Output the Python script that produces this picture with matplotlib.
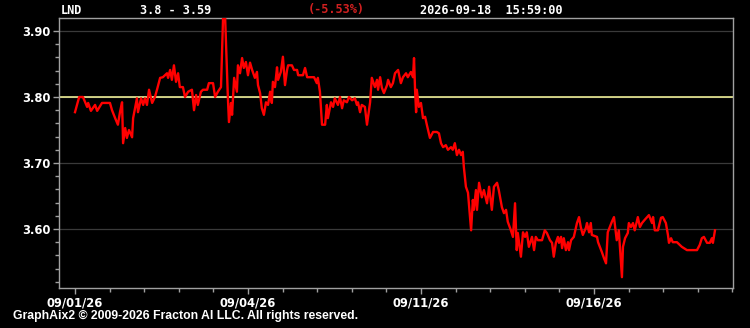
import numpy as np
import matplotlib
matplotlib.use("Agg")
import matplotlib.pyplot as plt
from matplotlib.ticker import MultipleLocator, FixedLocator, FixedFormatter

# price path, t = session position (1 unit per minor x tick)
t = [0, 0.12, 0.23, 0.35, 0.38, 0.46, 0.58, 0.64, 0.78, 1.01,
     1.07, 1.16, 1.24, 1.30, 1.36, 1.39, 1.45, 1.50, 1.56, 1.65,
     1.68, 1.79, 1.82, 1.91, 1.97, 2.02, 2.08, 2.14, 2.23, 2.31,
     2.37, 2.46, 2.54, 2.66, 2.69, 2.75, 2.80, 2.86, 2.92, 2.98,
     3.03, 3.12, 3.18, 3.27, 3.38, 3.44, 3.50, 3.55, 3.64, 3.70,
     3.82, 3.87, 3.99, 4.05, 4.13, 4.22, 4.28, 4.34, 4.42, 4.45,
     4.51, 4.54, 4.60, 4.68, 4.71, 4.77, 4.83, 4.88, 4.94, 5.00,
     5.06, 5.12, 5.20, 5.26, 5.29, 5.35, 5.40, 5.46, 5.52, 5.58,
     5.64, 5.69, 5.72, 5.78, 5.84, 5.87, 5.95, 6.01, 6.07, 6.13,
     6.16, 6.27, 6.33, 6.42, 6.45, 6.59, 6.65, 6.71, 6.91, 6.99,
     7.02, 7.08, 7.14, 7.23, 7.28, 7.31, 7.40, 7.46, 7.51, 7.60,
     7.66, 7.72, 7.77, 7.86, 7.92, 8.01, 8.09, 8.15, 8.18, 8.24,
     8.29, 8.38, 8.44, 8.53, 8.58, 8.67, 8.73, 8.76, 8.82, 8.87,
     8.93, 9.02, 9.05, 9.13, 9.19, 9.25, 9.34, 9.42, 9.48, 9.57,
     9.62, 9.71, 9.77, 9.80, 9.83, 9.86, 9.88, 9.94, 10.00, 10.06,
     10.12, 10.17, 10.26, 10.35, 10.46, 10.52, 10.58, 10.64, 10.72, 10.78,
     10.87, 10.92, 10.98, 11.04, 11.10, 11.16, 11.21, 11.24, 11.30, 11.36,
     11.45, 11.50, 11.53, 11.59, 11.62, 11.68, 11.76, 11.82, 11.91, 11.97,
     12.05, 12.11, 12.20, 12.25, 12.34, 12.40, 12.46, 12.51, 12.60, 12.66,
     12.72, 12.77, 12.80, 12.89, 12.95, 13.01, 13.06, 13.12, 13.21, 13.27,
     13.32, 13.38, 13.50, 13.58, 13.64, 13.73, 13.79, 13.84, 13.90, 13.96,
     13.99, 14.05, 14.08, 14.13, 14.19, 14.25, 14.28, 14.34, 14.42, 14.51,
     14.57, 14.62, 14.68, 14.77, 14.80, 14.86, 14.91, 14.94, 15.09, 15.12,
     15.23, 15.29, 15.35, 15.40, 15.52, 15.58, 15.66, 15.72, 15.81, 15.84,
     15.90, 15.98, 16.01, 16.07, 16.13, 16.18, 16.27, 16.33, 16.39, 16.47,
     16.59, 16.68, 16.71, 16.76, 16.85, 16.94, 16.99, 17.08, 17.14, 17.17,
     17.23, 17.28, 17.40, 17.54, 17.69, 17.98, 18.06, 18.12, 18.18, 18.27,
     18.35, 18.41, 18.44, 18.50]

price = [3.777, 3.800, 3.800, 3.785, 3.791, 3.779, 3.788, 3.779, 3.791, 3.791,
         3.780, 3.768, 3.758, 3.777, 3.792, 3.730, 3.753, 3.738, 3.750, 3.739,
         3.768, 3.798, 3.777, 3.798, 3.788, 3.798, 3.788, 3.811, 3.791, 3.800,
         3.811, 3.829, 3.830, 3.836, 3.829, 3.841, 3.826, 3.848, 3.823, 3.836,
         3.815, 3.815, 3.800, 3.808, 3.811, 3.780, 3.803, 3.788, 3.808, 3.811,
         3.811, 3.821, 3.821, 3.800, 3.808, 3.815, 3.920, 3.920, 3.798, 3.762,
         3.791, 3.773, 3.829, 3.808, 3.848, 3.836, 3.859, 3.844, 3.853, 3.833,
         3.852, 3.841, 3.829, 3.838, 3.818, 3.806, 3.783, 3.773, 3.792, 3.788,
         3.808, 3.791, 3.823, 3.815, 3.845, 3.826, 3.838, 3.861, 3.818, 3.841,
         3.848, 3.848, 3.841, 3.841, 3.833, 3.833, 3.844, 3.830, 3.830, 3.821,
         3.829, 3.808, 3.758, 3.758, 3.788, 3.768, 3.792, 3.785, 3.798, 3.788,
         3.800, 3.783, 3.795, 3.792, 3.800, 3.795, 3.798, 3.788, 3.792, 3.777,
         3.788, 3.785, 3.758, 3.792, 3.829, 3.815, 3.826, 3.811, 3.830, 3.814,
         3.806, 3.818, 3.826, 3.815, 3.821, 3.836, 3.841, 3.821, 3.830, 3.836,
         3.830, 3.838, 3.830, 3.859, 3.811, 3.777, 3.811, 3.785, 3.791, 3.768,
         3.770, 3.758, 3.738, 3.747, 3.747, 3.745, 3.730, 3.724, 3.727, 3.720,
         3.724, 3.720, 3.730, 3.712, 3.720, 3.712, 3.717, 3.694, 3.664, 3.655,
         3.598, 3.644, 3.629, 3.659, 3.629, 3.670, 3.648, 3.659, 3.639, 3.664,
         3.629, 3.664, 3.670, 3.659, 3.633, 3.624, 3.629, 3.611, 3.598, 3.588,
         3.639, 3.568, 3.594, 3.558, 3.595, 3.588, 3.595, 3.573, 3.588, 3.568,
         3.588, 3.583, 3.583, 3.598, 3.594, 3.583, 3.579, 3.558, 3.579, 3.588,
         3.579, 3.588, 3.571, 3.586, 3.568, 3.580, 3.568, 3.583, 3.588, 3.609,
         3.618, 3.603, 3.591, 3.602, 3.609, 3.595, 3.609, 3.591, 3.588, 3.580,
         3.565, 3.556, 3.548, 3.595, 3.611, 3.618, 3.583, 3.598, 3.527, 3.573,
         3.586, 3.594, 3.609, 3.603, 3.609, 3.598, 3.618, 3.603, 3.609, 3.614,
         3.621, 3.609, 3.618, 3.598, 3.598, 3.617, 3.618, 3.609, 3.591, 3.579,
         3.586, 3.580, 3.580, 3.573, 3.568, 3.568, 3.576, 3.586, 3.588, 3.579,
         3.579, 3.586, 3.579, 3.598]

ref_price = 3.80
date_pos = [0, 5, 10, 15]
date_labels = ["09/01/26", "09/04/26", "09/11/26", "09/16/26"]
y_ticks = [3.60, 3.70, 3.80, 3.90]

fig = plt.figure(figsize=(7.5, 3.28), dpi=100, facecolor="black")
ax = fig.add_axes([0.0787, 0.1220, 0.8986, 0.8231], facecolor="black")

for yv in y_ticks:
    ax.axhline(yv, color="#3a3a3a", lw=0.9, zorder=1)
ax.axhline(ref_price, color="#ffffa0", lw=1.1, zorder=2)
ax.plot(t, price, color="#ff0000", lw=1.7, zorder=3, clip_on=True)

ax.set_xlim(-0.462, 19.02)
ax.set_ylim(3.5106, 3.9197)

ax.xaxis.set_major_locator(FixedLocator(date_pos))
ax.xaxis.set_major_formatter(FixedFormatter(date_labels))
ax.xaxis.set_minor_locator(MultipleLocator(1))
ax.yaxis.set_major_locator(FixedLocator(y_ticks))
ax.yaxis.set_major_formatter(plt.FuncFormatter(lambda v, p: "%.2f" % v))
ax.yaxis.set_minor_locator(MultipleLocator(0.02))

for s in ax.spines.values():
    s.set_color("#a0a0a0")
    s.set_linewidth(1.0)

ax.tick_params(which="both", colors="#a0a0a0", direction="out")
ax.tick_params(which="major", length=4, width=1, labelcolor="white", labelsize=8.3, pad=2)
ax.tick_params(which="minor", length=3, width=1)
for lab in ax.get_xticklabels() + ax.get_yticklabels():
    lab.set_fontweight("bold")

# header
hy = 1 - 10 / 328
mono = dict(family="DejaVu Sans Mono", weight="bold", fontsize=8.6, va="center")
fig.text(61 / 750, hy, "LND", color="white", **mono)
fig.text(140 / 750, hy, "3.8 - 3.59", color="white", **mono)
fig.text(308 / 750, hy, "(-5.53%)", color="#d02020", **mono)
fig.text(420 / 750, hy, "2026-09-18  15:59:00", color="white", **mono)

fig.text(13 / 750, 1 - 316 / 328, "GraphAix2 \u00a9 2009-2026 Fracton AI LLC. All rights reserved.",
         color="white", family="Liberation Sans", weight="bold", fontsize=8.8, va="center")

fig.savefig("out.png", dpi=100, facecolor="black")
